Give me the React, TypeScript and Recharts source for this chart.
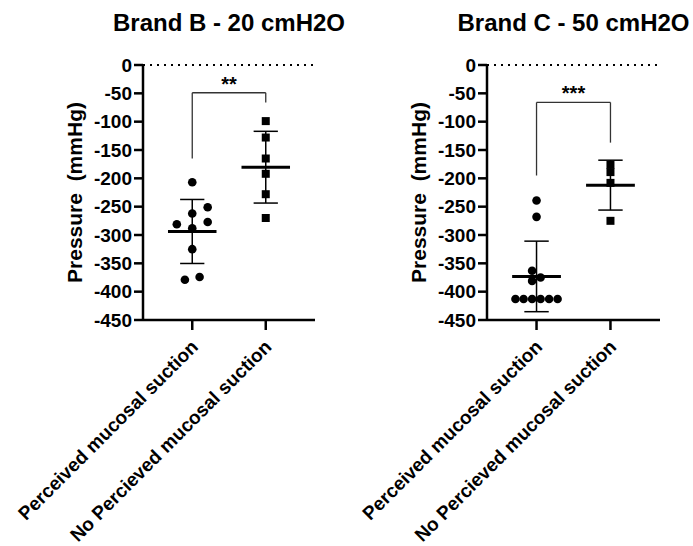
import React from "react";
import { ScatterChart, Scatter, XAxis, YAxis, ReferenceLine } from "recharts";

const groups = ["Perceived mucosal suction", "No Percieved mucosal suction"];
const yTicks = [0, -50, -100, -150, -200, -250, -300, -350, -400, -450];

// Brand B - 20 cmH2O (mmHg)
const brandBPerceived = [-207, -251, -262, -281, -277, -288, -325, -379, -374];
const brandBPerceivedJitter = [0, 0.21, 0, -0.21, 0.21, 0, 0, -0.1, 0.1];
const brandBNotPerceived = [-99, -128, -165, -192, -228, -270];
const brandBNotPerceivedJitter = [0, 0, 0, 0, 0, 0];

// Brand C - 50 cmH2O (mmHg)
const brandCPerceived = [-239, -268, -363, -375, -381, -413, -413, -413, -413, -413, -413];
const brandCPerceivedJitter = [0, 0, -0.06, 0.055, -0.06, -0.285, -0.175, -0.06, 0.055, 0.17, 0.285];
const brandCNotPerceived = [-176, -189, -208, -275];
const brandCNotPerceivedJitter = [0, 0, 0, 0];

const FONT = "'Liberation Sans', Arial, sans-serif";

const mean = (v: number[]) => v.reduce((a, b) => a + b, 0) / v.length;
const sd = (v: number[]) => {
    const m = mean(v);
    return Math.sqrt(v.reduce((a, b) => a + (b - m) ** 2, 0) / (v.length - 1));
};

const toPoints = (values: number[], jitter: number[], group: number) =>
    values.map((y, i) => ({ x: group + jitter[i], y }));

const Dot = (p: any) => <circle cx={p.cx} cy={p.cy} r={4.3} fill="#000" />;
const Square = (p: any) => (
    <rect x={p.cx - 4} y={p.cy - 4} width={8} height={8} fill="#000" />
);

const CategoryTick = (p: any) => {
    const x = p.x + 7;
    const y = p.y + 18;
    return (
        <text
            x={x}
            y={y}
            transform={`rotate(-45, ${x}, ${y})`}
            textAnchor="end"
            fontSize={19}
            fontWeight="bold"
            fontFamily={FONT}
            fill="#000"
        >
            {groups[Math.round(p.payload.value) - 1]}
        </text>
    );
};

const AxisTitle = (p: any) => {
    const vb = p.viewBox;
    const x = vb.x + vb.width - 61;
    const y = vb.y + vb.height / 2;
    return (
        <text
            x={x}
            y={y}
            transform={`rotate(-90, ${x}, ${y})`}
            textAnchor="middle"
            fontSize={21}
            fontWeight="bold"
            fontFamily={FONT}
            fill="#000"
            style={{ whiteSpace: "pre" }}
        >
            Pressure  (mmHg)
        </text>
    );
};

interface PanelProps {
    title: string;
    left: number;
    width: number;
    axisWidth: number;
    perceived: number[];
    perceivedJitter: number[];
    notPerceived: number[];
    notPerceivedJitter: number[];
    bracketY: number;
    leftLegEnd: number;
    rightLegEnd: number;
    stars: string;
    starsOffset: number;
}

function Panel(props: PanelProps) {
    const sets = [
        { values: props.perceived, group: 1 },
        { values: props.notPerceived, group: 2 },
    ];
    const plotLeft = props.axisWidth;
    const plotRight = props.width - (props.left === 0 ? 31 : 33);
    return (
        <div style={{ position: "absolute", left: props.left, top: 0, width: props.width, height: 546 }}>
            <div
                style={{
                    position: "absolute",
                    left: 0,
                    top: 11,
                    width: plotLeft + plotRight,
                    textAlign: "center",
                    fontSize: 24,
                    lineHeight: "24px",
                    fontWeight: "bold",
                    fontFamily: FONT,
                    color: "#000",
                }}
            >
                {props.title}
            </div>
            <ScatterChart
                width={props.width}
                height={546}
                margin={{ top: 65, right: props.width - plotRight, bottom: 196, left: 0 }}
            >
                <XAxis
                    type="number"
                    dataKey="x"
                    domain={[0.33, 2.67]}
                    ticks={[1, 2]}
                    allowDataOverflow
                    height={30}
                    tickSize={10}
                    tickMargin={0}
                    axisLine={{ stroke: "#000", strokeWidth: 2.5 }}
                    tickLine={{ stroke: "#000", strokeWidth: 2.5 }}
                    tick={<CategoryTick />}
                    interval={0}
                />
                <YAxis
                    type="number"
                    dataKey="y"
                    domain={[-450, 0]}
                    ticks={yTicks}
                    allowDataOverflow
                    width={props.axisWidth}
                    tickSize={9}
                    tickMargin={2}
                    interval={0}
                    axisLine={{ stroke: "#000", strokeWidth: 2.5 }}
                    tickLine={{ stroke: "#000", strokeWidth: 2.5 }}
                    tick={{ fill: "#000", fontSize: 19, fontWeight: "bold", fontFamily: FONT }}
                    label={{ content: <AxisTitle /> }}
                />
                <ReferenceLine y={0} stroke="#000" strokeWidth={2} strokeDasharray="2 5" />
                {sets.map((s) => {
                    const m = mean(s.values);
                    const d = sd(s.values);
                    return (
                        <React.Fragment key={s.group}>
                            <ReferenceLine
                                segment={[{ x: s.group, y: m - d }, { x: s.group, y: m + d }]}
                                stroke="#000"
                                strokeWidth={1.5}
                            />
                            <ReferenceLine
                                segment={[{ x: s.group - 0.165, y: m + d }, { x: s.group + 0.165, y: m + d }]}
                                stroke="#000"
                                strokeWidth={1.5}
                            />
                            <ReferenceLine
                                segment={[{ x: s.group - 0.165, y: m - d }, { x: s.group + 0.165, y: m - d }]}
                                stroke="#000"
                                strokeWidth={1.5}
                            />
                            <ReferenceLine
                                segment={[{ x: s.group - 0.33, y: m }, { x: s.group + 0.33, y: m }]}
                                stroke="#000"
                                strokeWidth={3}
                            />
                        </React.Fragment>
                    );
                })}
                <ReferenceLine
                    segment={[{ x: 1, y: props.bracketY }, { x: 2, y: props.bracketY }]}
                    stroke="#333"
                    strokeWidth={1.3}
                    label={{
                        value: props.stars,
                        position: "top",
                        offset: props.starsOffset,
                        fontSize: 20,
                        fontWeight: "bold",
                        fontFamily: FONT,
                        fill: "#000",
                    }}
                />
                <ReferenceLine
                    segment={[{ x: 1, y: props.bracketY }, { x: 1, y: props.leftLegEnd }]}
                    stroke="#333"
                    strokeWidth={1.3}
                />
                <ReferenceLine
                    segment={[{ x: 2, y: props.bracketY }, { x: 2, y: props.rightLegEnd }]}
                    stroke="#333"
                    strokeWidth={1.3}
                />
                <Scatter
                    data={toPoints(props.perceived, props.perceivedJitter, 1)}
                    shape={<Dot />}
                    isAnimationActive={false}
                />
                <Scatter
                    data={toPoints(props.notPerceived, props.notPerceivedJitter, 2)}
                    shape={<Square />}
                    isAnimationActive={false}
                />
            </ScatterChart>
        </div>
    );
}

export default function App() {
    return (
        <div style={{ position: "absolute", left: 0, top: 0, width: 693, height: 546, background: "#fff" }}>
            <Panel
                title="Brand B - 20 cmH2O"
                left={0}
                width={346}
                axisWidth={143}
                perceived={brandBPerceived}
                perceivedJitter={brandBPerceivedJitter}
                notPerceived={brandBNotPerceived}
                notPerceivedJitter={brandBNotPerceivedJitter}
                bracketY={-49}
                leftLegEnd={-165}
                rightLegEnd={-66}
                stars="**"
                starsOffset={2}
            />
            <Panel
                title="Brand C - 50 cmH2O"
                left={346}
                width={347}
                axisWidth={141}
                perceived={brandCPerceived}
                perceivedJitter={brandCPerceivedJitter}
                notPerceived={brandCNotPerceived}
                notPerceivedJitter={brandCNotPerceivedJitter}
                bracketY={-66}
                leftLegEnd={-195}
                rightLegEnd={-137}
                stars="***"
                starsOffset={2}
            />
        </div>
    );
}
